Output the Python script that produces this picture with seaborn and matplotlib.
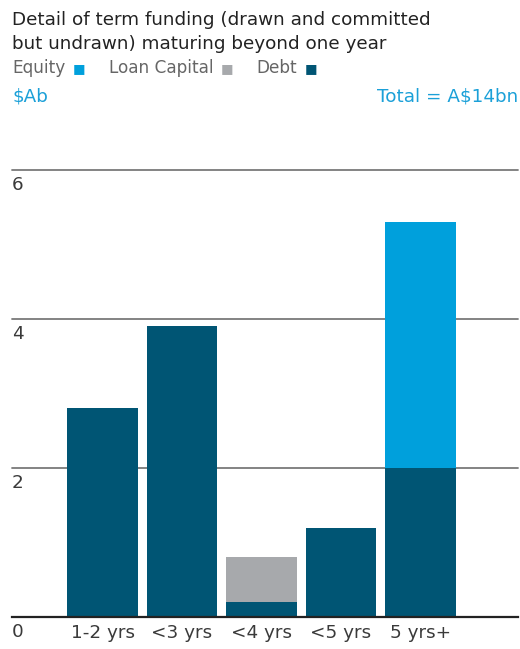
import matplotlib
matplotlib.use("Agg")
import matplotlib.pyplot as plt
import matplotlib.transforms as mtransforms
import seaborn as sns
import pandas as pd

categories = ["1-2 yrs", "<3 yrs", "<4 yrs", "<5 yrs", "5 yrs+"]
debt = [2.8, 3.9, 0.2, 1.2, 2.0]
loan_capital = [0.0, 0.0, 0.6, 0.0, 0.0]
equity = [0.0, 0.0, 0.0, 0.0, 3.3]
y_ticks = [2, 4, 6]

C_DEBT = "#005574"
C_LOAN = "#a7a9ac"
C_EQ = "#00a0dc"
C_TXT = "#3a3a3a"

sns.set_style("white")
plt.rcParams["font.family"] = ["DejaVu Sans"]

fig = plt.figure(figsize=(5.20, 6.49), dpi=100)
ax = fig.add_axes([12/520, 32/649, 506/520, (617-170)/649])

df = pd.DataFrame({"cat": categories, "debt": debt, "loan": loan_capital, "equity": equity})
df["debt_loan"] = df["debt"] + df["loan"]

sns.barplot(data=df, x="cat", y="debt", order=categories, color=C_DEBT, width=0.89,
            saturation=1, ax=ax, linewidth=0)
sns.barplot(data=df, x="cat", y="loan", order=categories, color=C_LOAN, width=0.89,
            saturation=1, ax=ax, linewidth=0, bottom=df["debt"].values)
sns.barplot(data=df, x="cat", y="equity", order=categories, color=C_EQ, width=0.89,
            saturation=1, ax=ax, linewidth=0, bottom=df["debt_loan"].values)

TICK = 13.2
ax.set_xlim(-1.14, 5.23)
ax.set_ylim(0, 6)
ax.set_yticks(y_ticks)
ax.set_yticklabels([])
ax.tick_params(axis="y", length=0)
ax.tick_params(axis="x", length=0, pad=5, labelsize=TICK, labelcolor=C_TXT)
ax.set_xlabel("")
ax.set_ylabel("")
for s in ["top", "right", "left"]:
    ax.spines[s].set_visible(False)
ax.spines["bottom"].set_color("#222222")
ax.spines["bottom"].set_linewidth(1.6)
ax.set_axisbelow(True)
ax.grid(axis="y", color="#7a7a7a", linewidth=1.3)
ax.grid(axis="x", visible=False)
for gl in ax.yaxis.get_gridlines():
    gl.set_clip_on(False)

trans = mtransforms.blended_transform_factory(ax.transAxes, ax.transData)
for t in y_ticks:
    ax.text(0.0, t - 0.08, str(t), transform=trans, ha="left", va="top",
            fontsize=TICK, color=C_TXT)
fig.text(12/520, 1 - 632/649, "0", ha="left", va="center", fontsize=TICK, color=C_TXT)

HDR = 13.2
fig.text(12/520, 1 - 20/649, "Detail of term funding (drawn and committed",
         fontsize=HDR, color="#222222", va="center", ha="left")
fig.text(12/520, 1 - 44/649, "but undrawn) maturing beyond one year",
         fontsize=HDR, color="#222222", va="center", ha="left")

fig.canvas.draw()
renderer = fig.canvas.get_renderer()
legend_items = [("Equity", C_EQ), ("Loan Capital", C_LOAN), ("Debt", C_DEBT)]
x = 12
for label, col in legend_items:
    t = fig.text(x/520, 1 - 68/649, label, fontsize=12.2, color="#666666", va="center", ha="left")
    bb = t.get_window_extent(renderer)
    xs = bb.x1 + 7
    s = fig.text(xs/520, 1 - 69/649, "■", fontsize=9.5, color=col, va="center", ha="left")
    sb = s.get_window_extent(renderer)
    x = sb.x1 + 24

fig.text(12/520, 1 - 97/649, "$Ab", fontsize=HDR, color="#1ba0d8", va="center", ha="left")
fig.text(518/520, 1 - 97/649, "Total = A$14bn", fontsize=HDR, color="#1ba0d8",
         va="center", ha="right")

fig.savefig("out.png", dpi=100)
